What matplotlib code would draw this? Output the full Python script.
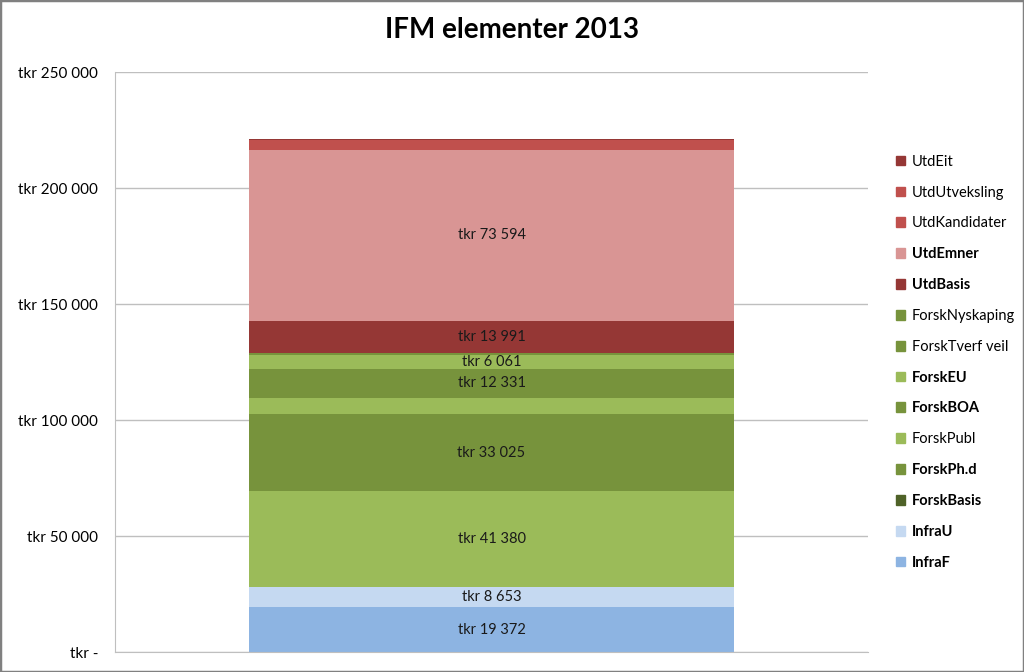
import matplotlib.pyplot as plt
from matplotlib.patches import Patch, Rectangle

# stacked from bottom to top
elements = ["InfraF", "InfraU", "ForskBasis", "ForskPh.d", "ForskPubl", "ForskBOA",
            "ForskEU", "ForskTverf veil", "ForskNyskaping", "UtdBasis", "UtdEmner",
            "UtdKandidater", "UtdUtveksling", "UtdEit"]
values = [19372, 8653, 41380, 33025, 7150, 12331, 6061, 400, 400, 13991, 73594, 4200, 200, 300]
labelled = ["InfraF", "InfraU", "ForskBasis", "ForskPh.d", "ForskBOA", "ForskEU",
            "UtdBasis", "UtdEmner"]
bar_colors = ["#8DB4E2", "#C5D9F1", "#9BBB59", "#77933C", "#9BBB59", "#77933C",
              "#9BBB59", "#77933C", "#77933C", "#953735", "#D99594", "#C0504D",
              "#C0504D", "#953735"]
legend_colors = ["#8DB4E2", "#C5D9F1", "#4F6228", "#77933C", "#9BBB59", "#77933C",
                 "#9BBB59", "#77933C", "#77933C", "#953735", "#D99594", "#C0504D",
                 "#C0504D", "#953735"]
yticks = [0, 50000, 100000, 150000, 200000, 250000]


def tkr(v):
    if v == 0:
        return "tkr -"
    return "tkr " + f"{v:,}".replace(",", " ")


plt.rcParams["font.family"] = ["Lato", "DejaVu Sans"]

fig = plt.figure(figsize=(10.24, 6.72), dpi=100)
ax = fig.add_axes([115 / 1024, 20 / 672, 753 / 1024, 580 / 672])

bottom = 0
for name, v, c in zip(elements, values, bar_colors):
    ax.bar(0, v, width=0.645, bottom=bottom, color=c, linewidth=0)
    if name in labelled:
        ax.text(0, bottom + v / 2, tkr(v), ha="center", va="center",
                fontsize=10.5, color="#1a1a1a")
    bottom += v

ax.set_xlim(-0.5, 0.5)
ax.set_ylim(0, 250000)
ax.set_yticks(yticks)
ax.set_yticklabels([tkr(t) for t in yticks], fontsize=11)
ax.set_xticks([])
ax.tick_params(axis="y", length=0, pad=12)
ax.grid(axis="y", color="#BFBFBF", linewidth=1)
ax.set_axisbelow(True)
for s in ["top", "right"]:
    ax.spines[s].set_visible(False)
for s in ["left", "bottom"]:
    ax.spines[s].set_color("#BFBFBF")

fig.suptitle("IFM elementer 2013", y=0.975, fontsize=20, fontweight="bold")

handles = [Patch(color=c, label=n) for n, c in zip(elements, legend_colors)][::-1]
leg = fig.legend(handles=handles, loc="center left", bbox_to_anchor=(0.862, 0.461),
                 frameon=False, fontsize=10.5, handlelength=0.65, handleheight=0.65,
                 handletextpad=0.45, labelspacing=1.155)
for t in leg.get_texts():
    if t.get_text() in labelled:
        t.set_fontweight("bold")

fig.patches.append(Rectangle((0, 0), 1, 1, transform=fig.transFigure, fill=False,
                             edgecolor="#808080", linewidth=2.5))

fig.savefig("out.png", dpi=100)
